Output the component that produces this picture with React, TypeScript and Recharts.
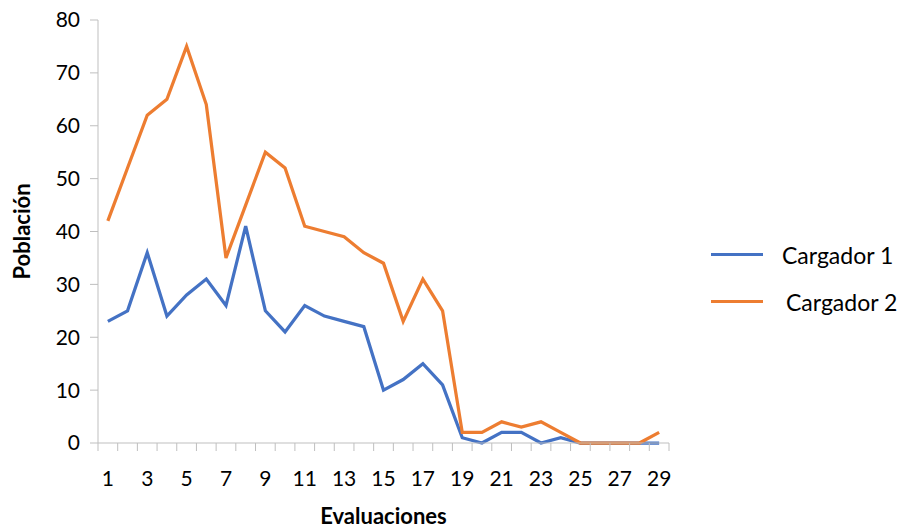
import { LineChart, Line, XAxis, YAxis, Legend } from 'recharts';

const evaluaciones = [
  1, 2, 3, 4, 5, 6, 7, 8, 9, 10, 11, 12, 13, 14, 15, 16, 17, 18, 19, 20, 21, 22, 23, 24, 25, 26, 27, 28, 29,
];
const cargador1 = [
  23, 25, 36, 24, 28, 31, 26, 41, 25, 21, 26, 24, 23, 22, 10, 12, 15, 11, 1, 0, 2, 2, 0, 1, 0, 0, 0, 0, 0,
];
const cargador2 = [
  42, 52, 62, 65, 75, 64, 35, 45, 55, 52, 41, 40, 39, 36, 34, 23, 31, 25, 2, 2, 4, 3, 4, 2, 0, 0, 0, 0, 2,
];
const yTicks = [0, 10, 20, 30, 40, 50, 60, 70, 80];

const data = evaluaciones.map((e, i) => ({
  eval: e,
  c1: cargador1[i],
  c2: cargador2[i],
}));

const FONT = 'Lato, "Open Sans", sans-serif';
const PLOT_W = 571;
const SLOT = PLOT_W / evaluaciones.length;
const AXIS_GRAY = '#bfbfbf';
const LEGEND_W = 199;

const XTick = (props: any) => {
  const { x, y, payload, index } = props;
  const axisY = y - 8;
  const left = x - SLOT / 2;
  const right = x + SLOT / 2;
  return (
    <g>
      <line x1={left} x2={left} y1={axisY} y2={axisY + 8} stroke={AXIS_GRAY} strokeWidth={1} />
      {index === evaluaciones.length - 1 && (
        <line x1={right} x2={right} y1={axisY} y2={axisY + 8} stroke={AXIS_GRAY} strokeWidth={1} />
      )}
      {payload.value % 2 === 1 && (
        <text x={x} y={y + 35} textAnchor="middle" fontSize={21} fontFamily={FONT} fill="#000">
          {payload.value}
        </text>
      )}
    </g>
  );
};

const renderLegend = (props: any) => {
  const { payload } = props;
  return (
    <div style={{ fontFamily: FONT, fontSize: 23, color: '#000' }}>
      {payload.map((entry: any, i: number) => (
        <div key={i} style={{ display: 'flex', alignItems: 'center', height: 47 }}>
          <div style={{ width: 52, height: 3, background: entry.color, marginRight: i === 1 ? 23 : 19 }} />
          <span>{entry.value}</span>
        </div>
      ))}
    </div>
  );
};

export default function App() {
  return (
    <div style={{ position: 'absolute', left: 0, top: 0, width: 910, height: 531, background: '#fff' }}>
      <LineChart
        width={910}
        height={531}
        data={data}
        margin={{ top: 20, right: 241 - LEGEND_W, bottom: 0, left: 0 }}
      >
        <XAxis
          dataKey="eval"
          interval={0}
          height={88}
          tickSize={8}
          tickMargin={0}
          tickLine={false}
          tick={<XTick />}
          stroke={AXIS_GRAY}
          padding={{ left: SLOT / 2, right: SLOT / 2 }}
          label={{
            value: 'Evaluaciones',
            position: 'insideBottom',
            offset: 7,
            style: { fontFamily: FONT, fontSize: 22, fontWeight: 700, fill: '#000' },
          }}
        />
        <YAxis
          width={98}
          domain={[0, 80]}
          ticks={yTicks}
          interval={0}
          tickSize={8}
          tickMargin={10}
          stroke={AXIS_GRAY}
          tick={{ fontFamily: FONT, fontSize: 21, fill: '#000' }}
          label={{
            value: 'Población',
            angle: -90,
            position: 'insideLeft',
            offset: 22,
            style: { textAnchor: 'middle', fontFamily: FONT, fontSize: 22, fontWeight: 700, fill: '#000' },
          }}
        />
        <Legend
          layout="vertical"
          align="right"
          verticalAlign="top"
          content={renderLegend}
          wrapperStyle={{ left: 711, top: 231, width: LEGEND_W }}
        />
        <Line
          type="linear"
          dataKey="c1"
          name="Cargador 1"
          stroke="#4472C4"
          strokeWidth={3.25}
          dot={false}
          isAnimationActive={false}
        />
        <Line
          type="linear"
          dataKey="c2"
          name="Cargador 2"
          stroke="#ED7D31"
          strokeWidth={3.25}
          dot={false}
          isAnimationActive={false}
        />
      </LineChart>
    </div>
  );
}
